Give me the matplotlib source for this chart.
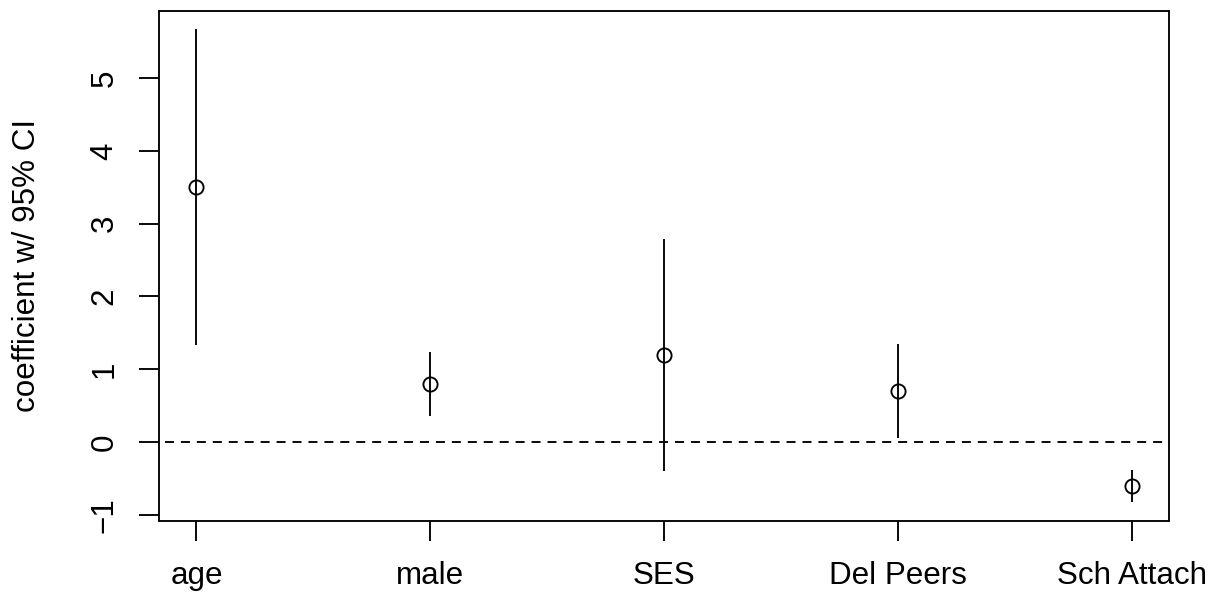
import matplotlib
matplotlib.use('Agg')
import matplotlib.pyplot as plt
import numpy as np

plt.rcParams['font.family'] = ['Liberation Sans', 'DejaVu Sans']

# coefficient estimates with 95% confidence limits
labels = ['age', 'male', 'SES', 'Del Peers', 'Sch Attach']
coef = [3.50, 0.80, 1.20, 0.70, -0.60]
lower = [1.33, 0.36, -0.40, 0.05, -0.82]
upper = [5.67, 1.23, 2.79, 1.35, -0.38]

W, H = 1215, 596
fig = plt.figure(figsize=(W / 100, H / 100), dpi=100)
# plot region in pixels: left, top, right, bottom
l, t, r, b = 159, 10.6, 1169, 520.5
ax = fig.add_axes([l / W, 1 - b / H, (r - l) / W, (b - t) / H])

x = np.arange(1, len(labels) + 1)
lw = 1.35
fs = 22.6

ax.axhline(0, color='black', lw=lw, linestyle=(5.3, (4.8, 3.7)))
ax.vlines(x, lower, upper, color='black', lw=lw)
ax.plot(x, coef, 'o', ms=10.2, mfc='none', mec='black', mew=lw)

# R-style 4% padding on both axes
lo, hi = min(lower), max(upper)
pad = (hi - lo) * 0.04
ax.set_ylim(lo - pad, hi + pad)
ax.set_xlim(1 - 0.16, len(labels) + 0.16)

ax.set_xticks(x)
ax.set_xticklabels(labels, fontsize=fs)
ax.set_yticks(range(-1, 6))
ax.set_yticklabels([str(v).replace('-', '\u2212') for v in range(-1, 6)],
                   fontsize=fs, rotation=90, va='center')
ax.tick_params(axis='x', length=14.5, width=lw, pad=15)
ax.tick_params(axis='y', length=14.5, width=lw, pad=14)
for s in ax.spines.values():
    s.set_linewidth(lw)

fig.text(27 / W, 1 - ((t + b) / 2) / H, 'coefficient w/ 95% CI', fontsize=fs,
         rotation=90, ha='center', va='center')

fig.savefig('out.png', dpi=100, facecolor='white')
